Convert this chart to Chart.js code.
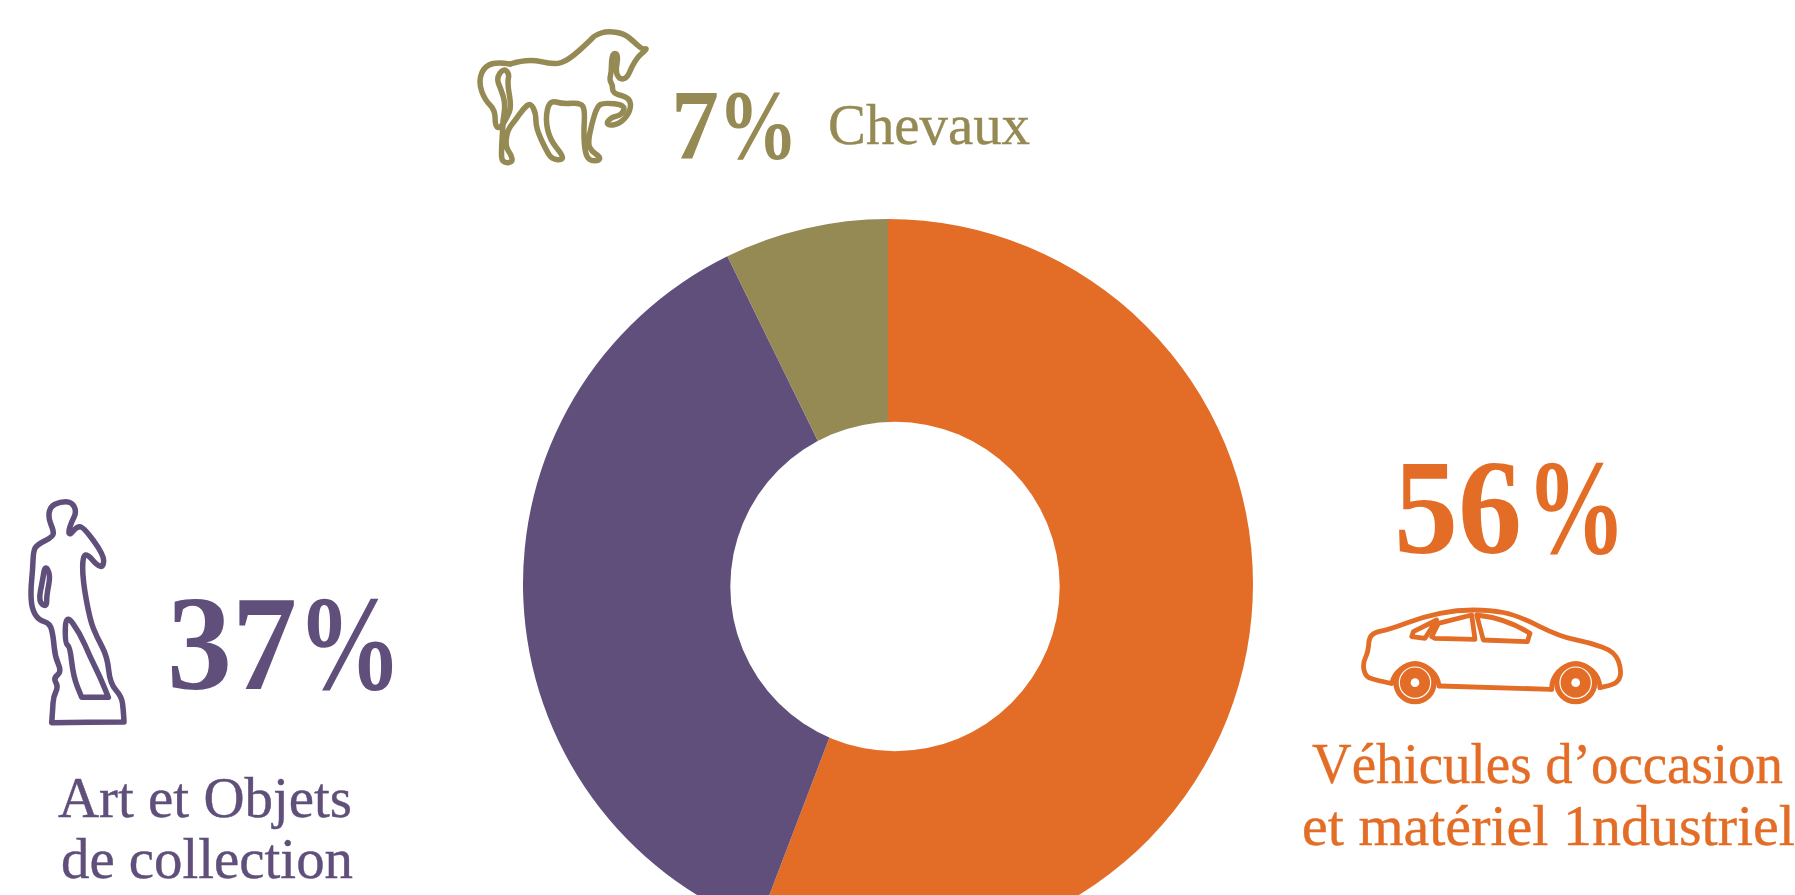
<!DOCTYPE html>
<html lang="fr">
<head>
<meta charset="utf-8">
<title>Répartition</title>
<script src="https://cdn.jsdelivr.net/npm/chart.js@4"></script>
<style>
    html, body { margin: 0; padding: 0; background: #fff; overflow: hidden; width: 1795px; height: 895px; }
    #wrap { position: relative; width: 1795px; height: 895px; overflow: hidden; }
    #pie { position: absolute; left: 518px; top: 214px; }
    #overlay { position: absolute; left: 0; top: 0; }
    #overlay text { font-family: "Liberation Serif", serif; }
    #overlay g * { vector-effect: non-scaling-stroke; }
</style>
</head>
<body>
<div id="wrap">
    <canvas id="pie" width="740" height="740"></canvas>
    <svg id="overlay" width="1795" height="895" viewBox="0 0 1795 895"></svg>
</div>
<script>
// Chart data
const categories = ['Véhicules d’occasion et matériel 1ndustriel', 'Art et Objets de collection', 'Chevaux'];
// Printed percentages
const printedShares = [56, 37, 7];
// Slice sizes as measured on the ring, they differ a little from the printed ones
const sliceShares = [55.8, 36.95, 7.25];
const sliceColors = ['#E36D26', '#5F4F7A', '#958A54'];

// Text lines next to the chart
const vehicleLines = ['Véhicules d’occasion', 'et matériel 1ndustriel'];
const artLines = ['Art et Objets', 'de collection'];
const horseLines = ['Chevaux'];

// The hole of the ring sits a little off the centre of the ring in the original
const offCentreHole = {
    id: 'offCentreHole',
    afterDatasetsDraw(chart) {
        const arc = chart.getDatasetMeta(0).data[0];
        const ctx = chart.ctx;
        ctx.save();
        ctx.fillStyle = '#fff';
        ctx.beginPath();
        ctx.arc(arc.x + 7, arc.y + 2.5, 164.7, 0, Math.PI * 2);
        ctx.fill();
        ctx.restore();
    }
};

new Chart(document.getElementById('pie'), {
    type: 'doughnut',
    data: {
        labels: categories,
        datasets: [{
            data: sliceShares,
            backgroundColor: sliceColors,
            borderWidth: 0
        }]
    },
    options: {
        responsive: false,
        animation: false,
        cutout: 155,
        layout: { padding: 5 },
        plugins: {
            legend: { display: false },
            tooltip: { enabled: false }
        }
    },
    plugins: [offCentreHole]
});

const svg = document.getElementById('overlay');
const NS = 'http://www.w3.org/2000/svg';

function addText(str, x, baseline, width, size, color, weight, thicken) {
    const t = document.createElementNS(NS, 'text');
    t.setAttribute('x', x);
    t.setAttribute('y', baseline);
    t.setAttribute('font-size', size);
    t.setAttribute('font-weight', weight);
    t.setAttribute('fill', color);
    t.setAttribute('stroke', color);
    t.setAttribute('stroke-width', thicken);
    t.setAttribute('textLength', width);
    t.setAttribute('lengthAdjust', 'spacingAndGlyphs');
    t.textContent = str;
    svg.appendChild(t);
}

// Percentages, digits and sign apart because the sign is narrower in the original
addText(String(printedShares[2]), 671, 158, 48, 100, sliceColors[2], 'bold', 0);
addText('%', 718, 158, 80, 100, sliceColors[2], 'bold', 0);
addText(String(printedShares[1]), 167, 689, 130, 135, sliceColors[1], 'bold', 0);
addText('%', 297, 689, 105, 135, sliceColors[1], 'bold', 0);
addText(String(printedShares[0]), 1394, 553, 128, 135, sliceColors[0], 'bold', 0);
addText('%', 1526, 553, 100, 135, sliceColors[0], 'bold', 0);

// Names
addText(horseLines[0], 828, 144, 202, 58, sliceColors[2], 'normal', 0.4);
addText(artLines[0], 58, 817, 294, 58, sliceColors[1], 'normal', 0.4);
addText(artLines[1], 61, 878, 292, 58, sliceColors[1], 'normal', 0.4);
addText(vehicleLines[0], 1312, 783, 471, 58, sliceColors[0], 'normal', 0.4);
addText(vehicleLines[1], 1302, 845, 493, 58, sliceColors[0], 'normal', 0.4);

// Turn a list of traced points into a smooth path through their midpoints
function smoothPath(pts, closed) {
    const mid = (a, b) => [(a[0] + b[0]) / 2, (a[1] + b[1]) / 2];
    if (closed) {
        const start = mid(pts[pts.length - 1], pts[0]);
        let d = `M${start[0]} ${start[1]}`;
        pts.forEach((p, i) => {
            const m = mid(p, pts[(i + 1) % pts.length]);
            d += ` Q${p[0]} ${p[1]} ${m[0]} ${m[1]}`;
        });
        return d + ' Z';
    }
    let d = `M${pts[0][0]} ${pts[0][1]}`;
    for (let i = 1; i < pts.length - 1; i++) {
        const m = mid(pts[i], pts[i + 1]);
        d += ` Q${pts[i][0]} ${pts[i][1]} ${m[0]} ${m[1]}`;
    }
    const last = pts[pts.length - 1];
    return d + ` L${last[0]} ${last[1]}`;
}

function addIcon(tx, ty, sx, sy, color, strokeWidth, build) {
    const g = document.createElementNS(NS, 'g');
    g.setAttribute('transform', `translate(${tx} ${ty}) scale(${sx} ${sy})`);
    g.setAttribute('fill', 'none');
    g.setAttribute('stroke', color);
    g.setAttribute('stroke-width', strokeWidth);
    g.setAttribute('stroke-linejoin', 'round');
    g.setAttribute('stroke-linecap', 'round');
    build(g);
    svg.appendChild(g);
}

function addPath(g, d, attrs) {
    const p = document.createElementNS(NS, 'path');
    p.setAttribute('d', d);
    Object.keys(attrs || {}).forEach(k => p.setAttribute(k, attrs[k]));
    g.appendChild(p);
}

function addCircle(g, cx, cy, r, attrs) {
    const c = document.createElementNS(NS, 'circle');
    c.setAttribute('cx', cx);
    c.setAttribute('cy', cy);
    c.setAttribute('r', r);
    Object.keys(attrs || {}).forEach(k => c.setAttribute(k, attrs[k]));
    g.appendChild(c);
}

// Horse
addIcon(440, 0, 1 / 2.45, 1 / 3, sliceColors[2], 5.5, g => {
    addPath(g, smoothPath([[172,192],[215,175],[280,195],[315,180],[365,125],[380,105],[410,93],[450,100],[475,125],[495,148],[507,145],[500,155],[485,170],[470,200],[458,235],[440,238],[430,215],[437,165],[425,158],[420,180],[420,215],[415,240],[423,255],[423,280],[465,293],[468,330],[445,368],[415,378],[408,368],[420,352],[445,345],[455,315],[400,308],[385,320],[372,370],[362,430],[372,455],[392,470],[390,482],[365,482],[355,455],[352,400],[355,330],[345,308],[300,312],[268,300],[258,360],[270,420],[300,465],[300,480],[275,478],[262,455],[235,385],[235,340],[222,308],[205,325],[185,360],[165,390],[160,440],[175,465],[178,488],[152,488],[150,455],[155,360]]));
    addPath(g, smoothPath([[172,192],[135,185],[105,205],[95,250],[110,300],[135,330],[135,380],[148,385],[165,350],[175,320],[165,250],[170,220],[155,205],[138,235],[150,270],[160,310],[155,360]]));
});

// Statue
addIcon(0, 480, 1 / 3, 1 / 3, sliceColors[1], 5.5, g => {
    addPath(g, smoothPath([[210,165],[205,155],[215,125],[230,95],[215,65],[180,65],[150,80],[145,115],[160,150],[160,170],[110,195],[100,215],[98,270],[92,330],[95,385],[115,420],[150,430],[160,470],[165,530],[185,575],[160,595],[175,620],[160,650],[158,690],[155,728],[155,728],[372,726],[372,726],[370,690],[365,650],[330,610],[322,530],[290,470],[270,420],[248,300],[248,225],[265,225],[290,255],[310,262],[312,225],[250,140],[230,140]], true));
    addPath(g, smoothPath([[135,255],[152,285],[140,345],[140,382],[115,365],[128,300]], true));
    addPath(g, smoothPath([[197,400],[240,460],[270,530],[300,590],[325,652],[325,652],[245,652],[245,652],[220,590],[210,500],[195,490]], true));
});

// Car
addIcon(1290, 440, 1 / 3, 1 / 3, sliceColors[0], 4.8, g => {
    addPath(g, smoothPath([[305,730],[245,718],[225,705],[218,670],[235,635],[238,580],[300,568],[400,530],[500,510],[600,510],[680,525],[810,590],[900,608],[975,635],[995,690],[985,730],[930,743]]));
    addPath(g, 'M450 738 L785 748');
    addPath(g, 'M305 730 A72 72 0 0 1 447 738');
    addPath(g, 'M785 748 A72 72 0 0 1 930 743');
    addPath(g, 'M560 525 Q650 535 720 580 L712 605 L580 600 Z');
    addPath(g, 'M545 525 L555 598 L435 595 L425 590 L445 550 Z');
    addPath(g, 'M365 590 L370 575 L440 540 L405 595 Z');
    [[375, 728], [857, 728]].forEach(w => {
        addCircle(g, w[0], w[1], 65, { fill: sliceColors[0], stroke: 'none' });
        addCircle(g, w[0], w[1], 47, { stroke: '#fff', 'stroke-width': 1.2 });
        addCircle(g, w[0], w[1], 13, { fill: '#fff', stroke: 'none' });
    });
});
</script>
</body>
</html>
